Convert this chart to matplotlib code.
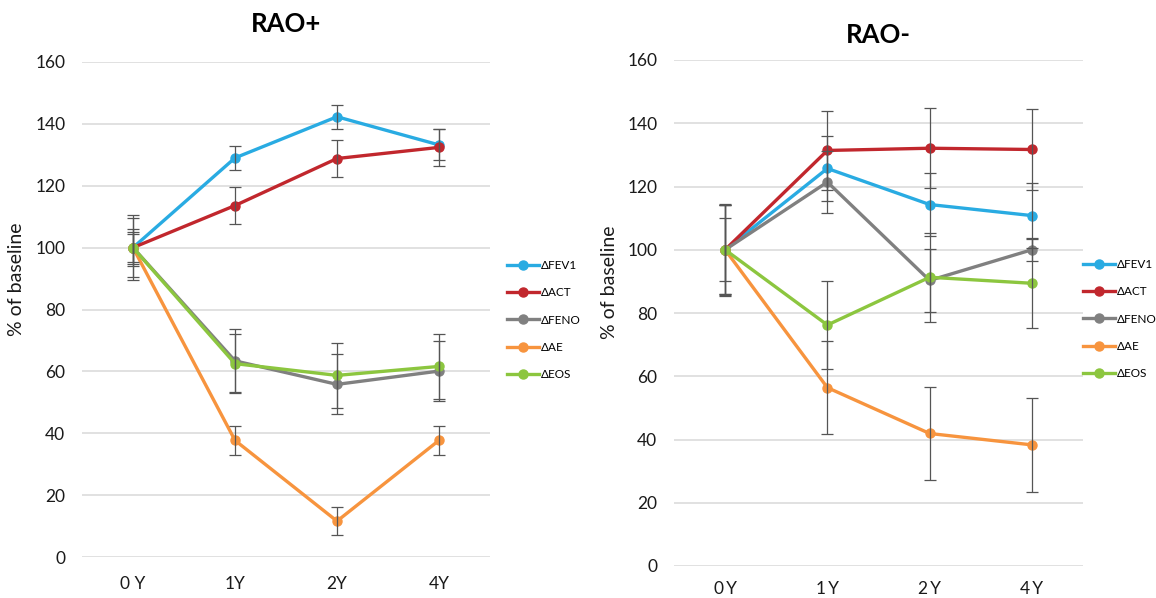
import matplotlib
matplotlib.use("Agg")
import matplotlib.pyplot as plt
from matplotlib.lines import Line2D

plt.rcParams['font.family'] = ['Lato', 'DejaVu Sans']

# values are % of baseline, mean and error per time point
series = ['ΔFEV1', 'ΔACT', 'ΔFENO', 'ΔAE', 'ΔEOS']
colors = ['#29ABE2', '#C1272D', '#808080', '#F7943E', '#8CC63F']

pos_labels = ['0 Y', '1Y', '2Y', '4Y']
pos_fev1 = [100, 129.0, 142.3, 133.2]
pos_act = [100, 113.6, 128.8, 132.4]
pos_feno = [100, 63.4, 55.8, 60.1]
pos_ae = [100, 37.7, 11.6, 37.7]
pos_eos = [100, 62.5, 58.7, 61.6]
pos_fev1_err = [5.2, 3.9, 3.9, 5.0]
pos_act_err = [6.0, 6.0, 6.0, 6.0]
pos_feno_err = [10.5, 10.2, 9.7, 9.6]
pos_ae_err = [9.5, 4.6, 4.6, 4.6]
pos_eos_err = [4.5, 9.5, 10.6, 10.5]

neg_labels = ['0\u2009Y', '1\u2009Y', '2\u2009Y', '4\u2009Y']
neg_fev1 = [100, 125.7, 114.3, 110.8]
neg_act = [100, 131.4, 132.1, 131.7]
neg_feno = [100, 121.4, 90.3, 100.0]
neg_ae = [100, 56.4, 41.9, 38.3]
neg_eos = [100, 76.2, 91.3, 89.4]
neg_fev1_err = [14.6, 10.3, 10.0, 10.3]
neg_act_err = [14.0, 12.6, 12.7, 12.8]
neg_feno_err = [10.0, 9.9, 10.0, 3.6]
neg_ae_err = [14.2, 14.6, 14.8, 14.8]
neg_eos_err = [14.0, 14.0, 14.0, 14.0]

W, H = 1156, 598
fig = plt.figure(figsize=(W / 100, H / 100), dpi=100)


def draw_panel(rect, title, labels, values, errors, title_y, leg_xy, xlab_pad,
               ylab_xy):
    ax = fig.add_axes(rect)
    x = list(range(len(labels)))
    for vals, errs, c in zip(values, errors, colors):
        ax.plot(x, vals, color=c, lw=2.4, marker='o', ms=6.5,
                mec=c, mfc=c, zorder=3)
        ax.errorbar(x, vals, yerr=errs, fmt='none', ecolor='#555555',
                    elinewidth=0.9, capsize=4.5, capthick=0.9, zorder=4)
    ax.set_xlim(-0.5, len(labels) - 0.5)
    ax.set_ylim(0, 160)
    ax.set_yticks(range(0, 161, 20))
    ax.set_xticks(x)
    ax.set_xticklabels(labels)
    ax.grid(axis='y', color='#D9D9D9', lw=1.1)
    ax.set_axisbelow(True)
    for s in ax.spines.values():
        s.set_visible(False)
    ax.tick_params(length=0, labelsize=12.5, colors='#1a1a1a')
    ax.tick_params(axis='y', pad=12)
    ax.tick_params(axis='x', pad=xlab_pad)
    ax.set_ylabel('% of baseline', fontsize=14, color='#1a1a1a')
    ax.yaxis.set_label_coords(*ylab_xy)
    fig.text((rect[0] + rect[2] / 2), title_y, title, fontsize=18.5,
             fontweight='bold', ha='center', va='center')
    handles = [Line2D([], [], color=c, lw=2.4, marker='o', ms=6.5)
               for c in colors]
    fig.legend(handles, series, loc='upper left',
               bbox_to_anchor=(leg_xy[0] / W, 1 - leg_xy[1] / H),
               frameon=False, fontsize=8.5, handlelength=2.7,
               handletextpad=0.2, labelspacing=1.38, borderpad=0,
               borderaxespad=0)
    return ax


draw_panel([82 / W, 1 - 557 / H, 408 / W, 495 / H], 'RAO+', pos_labels,
           [pos_fev1, pos_act, pos_feno, pos_ae, pos_eos],
           [pos_fev1_err, pos_act_err, pos_feno_err, pos_ae_err, pos_eos_err],
           1 - 24 / H, (507, 260), 14, (-0.140, 0.561))
draw_panel([674 / W, 1 - 566 / H, 409 / W, 506 / H], 'RAO-', neg_labels,
           [neg_fev1, neg_act, neg_feno, neg_ae, neg_eos],
           [neg_fev1_err, neg_act_err, neg_feno_err, neg_ae_err, neg_eos_err],
           1 - 35 / H, (1083, 259), 11, (-0.137, 0.561))

fig.savefig('out.png', dpi=100)
